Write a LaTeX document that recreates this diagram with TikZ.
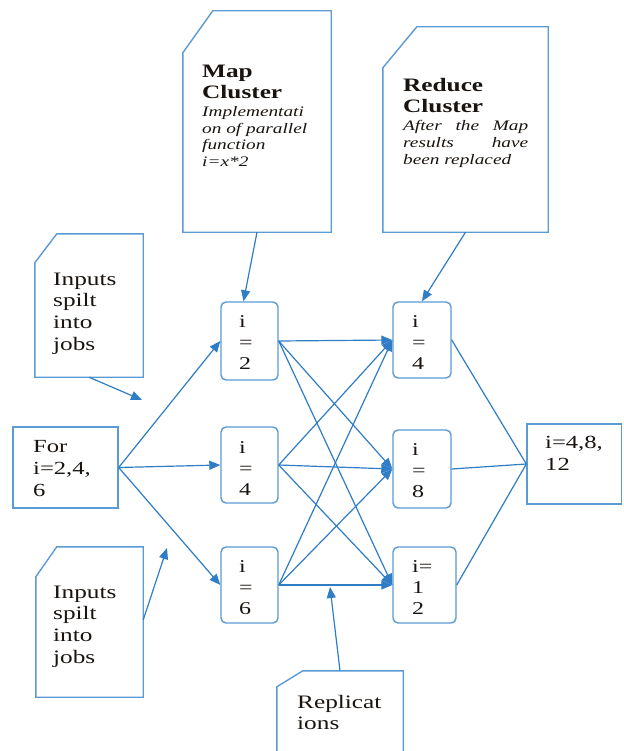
\documentclass[tikz,border=0pt]{standalone}
\usepackage{fontspec}
\setmainfont[FakeStretch=1.33]{Liberation Serif}
\usetikzlibrary{arrows.meta,calc}
\definecolor{lineblue}{RGB}{46,125,198}
\definecolor{bordblue}{RGB}{91,155,213}
\definecolor{txt}{RGB}{25,20,15}
\begin{document}
\begin{tikzpicture}[x=1pt,y=-1pt,
  box/.style={draw=bordblue,line width=1.4pt,inner sep=0pt},
  hold/.style={inner sep=0pt},
  mapbox/.style={draw=bordblue,line width=1.4pt,rounded corners=5pt,inner sep=0pt},
  edge/.style={draw=lineblue,line width=1.2pt},
  arr/.style={edge,-{Triangle[length=11pt,width=9pt]}},
  lbl/.style={anchor=base west,inner sep=0pt,text width=#1,align=left,text=txt},
  big/.style={font=\fontsize{19}{21.7}\selectfont},
  med/.style={font=\fontsize{18.5}{22}\selectfont},
  num/.style={font=\fontsize{18}{21}\selectfont}]
\useasboundingbox (0,0) rectangle (623,751);
\clip (0,0) rectangle (623,751);
\fill[white] (0,0) rectangle (623,751);

% callout holders
\node[hold,minimum width=148pt,minimum height=221pt] (map) at (257,121.5) {};
\node[hold,minimum width=165pt,minimum height=205pt] (red) at (465.5,129.5) {};
\node[hold,minimum width=108pt,minimum height=143pt] (in1) at (89,305.5) {};
\node[hold,minimum width=107pt,minimum height=150pt] (in2) at (89.5,622) {};
\node[hold,minimum width=126pt,minimum height=89pt] (rep) at (340,715.5) {};

\draw[box] ($(map.north west)+(30,0)$) -- (map.north east) -- (map.south east) -- (map.south west) -- ($(map.north west)+(0,42)$) -- cycle;
\draw[box] ($(red.north west)+(34,0)$) -- (red.north east) -- (red.south east) -- (red.south west) -- ($(red.north west)+(0,41)$) -- cycle;
\draw[box] ($(in1.north west)+(22,0)$) -- (in1.north east) -- (in1.south east) -- (in1.south west) -- ($(in1.north west)+(0,29)$) -- cycle;
\draw[box] ($(in2.north west)+(21,0)$) -- (in2.north east) -- (in2.south east) -- (in2.south west) -- ($(in2.north west)+(0,30)$) -- cycle;
\draw[box] (rep.south west) -- ($(rep.north west)+(0,16)$) -- ($(rep.north west)+(26,0)$) -- (rep.north east) -- (rep.south east);

% plain boxes
\node[box,minimum width=105pt,minimum height=81pt] (for) at (65.5,467.5) {};
\node[box,minimum width=94.5pt,minimum height=80pt] (out) at (574.25,464) {};

% map / reduce nodes
\node[mapbox,minimum width=57pt,minimum height=78pt] (L1) at (249.5,341) {};
\node[mapbox,minimum width=57pt,minimum height=76pt] (L2) at (249.5,465) {};
\node[mapbox,minimum width=57pt,minimum height=76pt] (L3) at (249.5,585) {};
\node[mapbox,minimum width=58pt,minimum height=76pt] (R1) at (422,340) {};
\node[mapbox,minimum width=58pt,minimum height=78pt] (R2) at (422,469) {};
\node[mapbox,minimum width=63pt,minimum height=76pt] (R3) at (424.5,585) {};

% texts
\node[lbl=135pt,font=\bfseries\fontsize{19}{21}\selectfont] (mapT) at (202,78) {Map\\Cluster};
\node[lbl=135pt,font=\itshape\fontsize{14.5}{16.5}\selectfont] (mapD) at (202,117) {Implementati\\on of parallel\\function\\i=x*2};
\node[lbl=140pt,font=\bfseries\fontsize{19}{20.5}\selectfont] (redT) at (403,92) {Reduce\\Cluster};
\node[lbl=140pt,font=\itshape\fontsize{14.5}{16.8}\selectfont] (redD) at (403,131) {\leavevmode\hbox to 125pt{After\hfill the\hfill Map}\\\leavevmode\hbox to 125pt{results\hfill have}\\been replaced};
\node[lbl=90pt,big] (in1T) at (53,285) {Inputs\\spilt\\into\\jobs};
\node[lbl=90pt,big] (in2T) at (53,598) {Inputs\\spilt\\into\\jobs};
\node[lbl=85pt,med] (forT) at (33,452) {For\\i=2,4,\\6};
\node[lbl=80pt,med] (outT) at (545,448) {i=4,8,\\12};
\node[lbl=110pt,big] (repT) at (297,708) {Replicat\\ions};

\node[lbl=40pt,num] (L1T) at (239,327) {i\\=\\2};
\node[lbl=40pt,num] (L2T) at (239,453) {i\\=\\4};
\node[lbl=40pt,num] (L3T) at (239,572) {i\\=\\6};
\node[lbl=40pt,num] (R1T) at (412,327) {i\\=\\4};
\node[lbl=40pt,num] (R2T) at (412,455) {i\\=\\8};
\node[lbl=40pt,num] (R3T) at (412,572) {i=\\1\\2};

% free ends
\coordinate (a1) at (142,400);
\coordinate (a2) at (167,548);
\coordinate (a3) at (330,587);

% connectors
\foreach \t in {L1,L2,L3} \draw[arr] (for.east) -- (\t.west);
\foreach \s in {L1,L2,L3} {
  \foreach \t in {R1,R2,R3} \draw[arr] (\s.east) -- (\t.west);
}
\foreach \s in {R1,R2,R3} \draw[edge] (\s.east) -- (out.west);

\draw[arr] (map.south) -- ($(L1.north)+(-6,0)$);
\draw[arr] (red.south) -- (R1.north);
\draw[arr] (in1.south) -- (a1);
\draw[arr] ($(in2.east)+(0,-2)$) -- (a2);
\draw[arr] (rep.north) -- (a3);
\end{tikzpicture}
\end{document}
